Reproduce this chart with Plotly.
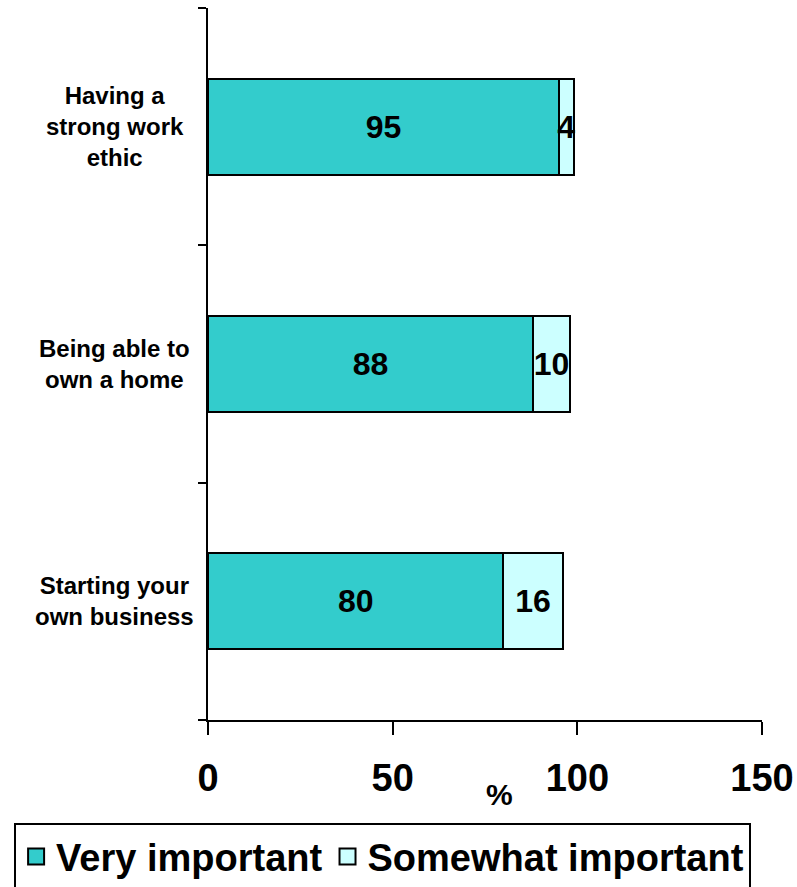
import plotly.graph_objects as go

categories = ["Having a strong work ethic", "Being able to own a home", "Starting your own business"]
category_labels = ["Having a<br>strong work<br>ethic", "Being able to<br>own a home", "Starting your<br>own business"]
series_names = ["Very important", "Somewhat important"]
very_important = [95, 88, 80]
somewhat_important = [4, 10, 16]
x_ticks = [0, 50, 100, 150]

FONT = "Liberation Sans, Arial"
TEAL = "#33CCCC"
LIGHT = "#CCFFFF"

fig = go.Figure()
for name, values, color in zip(series_names, [very_important, somewhat_important], [TEAL, LIGHT]):
    fig.add_trace(go.Bar(
        y=categories, x=values, orientation="h", name=name,
        legendgroup=name, showlegend=False,
        marker=dict(color=color, line=dict(color="black", width=2)),
        text=values, texttemplate="<b>%{text}</b>",
        textposition="inside", insidetextanchor="middle",
        textangle=0, textfont=dict(family=FONT, size=32, color="black"),
    ))
    # legend entry with a larger square swatch
    fig.add_trace(go.Scatter(
        x=[None], y=[None], mode="markers", name=f"<b>{name}</b>",
        legendgroup=name, showlegend=True,
        marker=dict(symbol="square", size=20, color=color, line=dict(color="black", width=2)),
    ))

for cat, lab in zip(categories, category_labels):
    fig.add_annotation(
        x=-0.168, xref="paper", y=cat, yref="y", text=f"<b>{lab}</b>",
        showarrow=False, xanchor="center", yanchor="middle", align="center",
        font=dict(family=FONT, size=24, color="black"),
    )

fig.add_annotation(
    x=0.527, xref="paper", y=-0.105, yref="paper", text="<b>%</b>",
    showarrow=False, xanchor="center", yanchor="middle",
    font=dict(family=FONT, size=30, color="black"),
)

fig.update_layout(
    barmode="stack",
    bargap=0.595,
    width=797, height=887,
    margin=dict(l=208, r=35, t=8, b=167, autoexpand=False),
    paper_bgcolor="white", plot_bgcolor="white",
    font=dict(family=FONT, color="black"),
    uniformtext=dict(minsize=32, mode="show"),
    legend=dict(
        orientation="h", x=-0.35, y=-0.145, xanchor="left", yanchor="top",
        bordercolor="black", borderwidth=2, bgcolor="white",
        font=dict(family=FONT, size=38, color="black"),
        traceorder="normal", itemwidth=30,
    ),
    xaxis=dict(
        range=[0, 150], tickvals=x_ticks, ticktext=[f"<b>{v}</b>" for v in x_ticks],
        showline=True, linecolor="black", linewidth=2,
        ticks="outside", ticklen=13, tickwidth=2, tickcolor="black",
        showgrid=False, zeroline=False, automargin=False,
        tickfont=dict(family=FONT, size=38, color="black"),
        ticklabelstandoff=10,
    ),
    yaxis=dict(
        categoryorder="array", categoryarray=categories[::-1],
        showline=True, linecolor="black", linewidth=2,
        ticks="outside", ticklen=8, tickwidth=2, tickcolor="black",
        tickson="boundaries", showticklabels=False,
        showgrid=False, zeroline=False, automargin=False,
    ),
)

fig.write_html("out.html")
